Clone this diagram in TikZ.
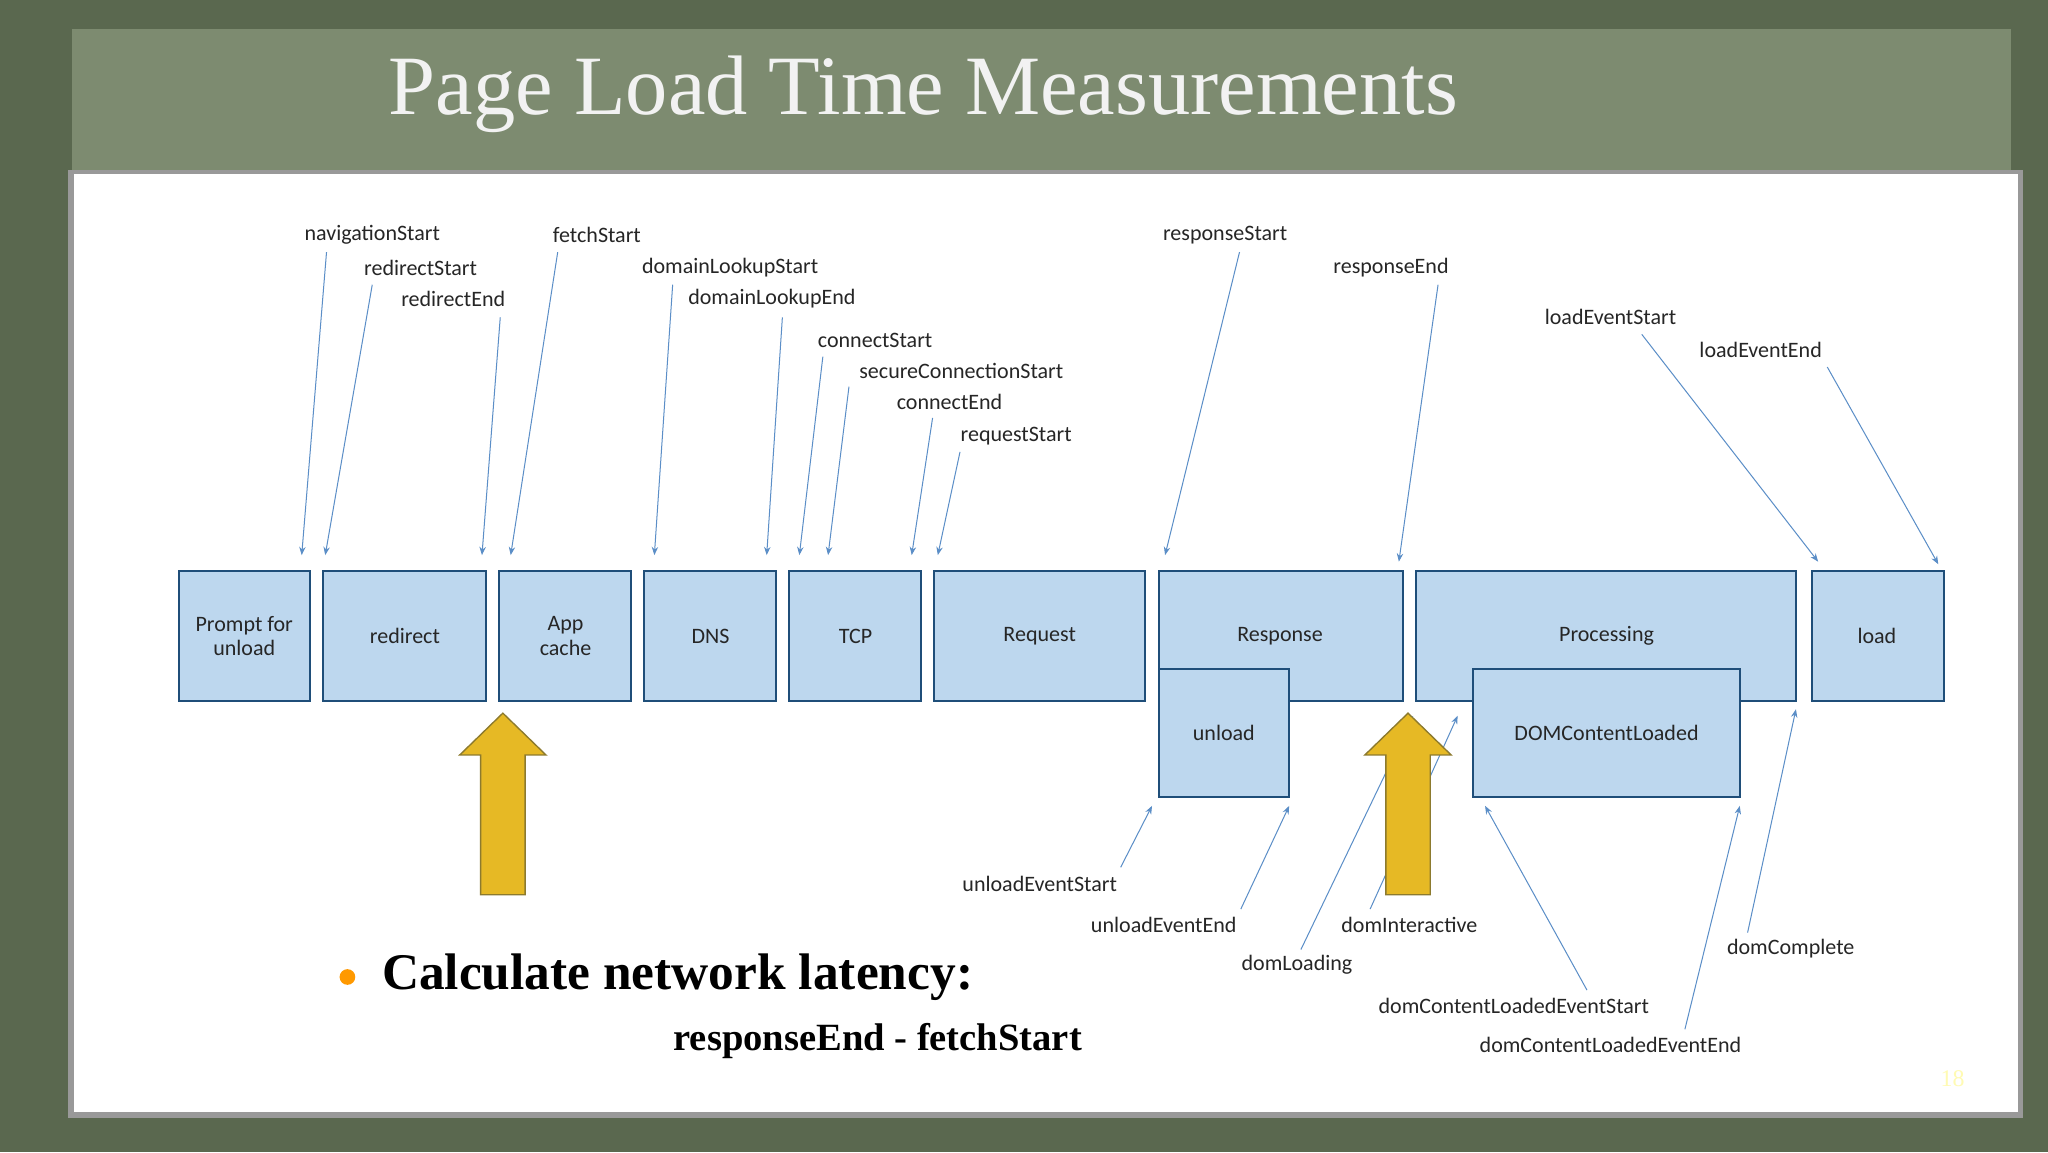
\documentclass[tikz,border=0pt]{standalone}
\usepackage{fontspec}
\setmainfont{Liberation Serif}
\newfontfamily\lab{Carlito}
\usetikzlibrary{arrows.meta}
\definecolor{bg}{HTML}{5A684F}
\definecolor{panel}{HTML}{7D8B70}
\definecolor{boxf}{HTML}{BDD7EE}
\definecolor{boxd}{HTML}{1F4E79}
\definecolor{arr}{HTML}{5B8EC7}
\definecolor{gold}{HTML}{E6B925}
\definecolor{goldd}{HTML}{8C7A2E}
\begin{document}
\begin{tikzpicture}[x=0.05cm,y=-0.05cm,
  bx/.style={draw=boxd,line width=2.2pt,fill=boxf},
  bt/.style={font=\lab\fontsize{24}{27}\selectfont,align=center,text=black!85},
  lb/.style={font=\lab\fontsize{24}{27}\selectfont,text=black!85,inner sep=1pt},
  ar/.style={draw=arr,line width=1.1pt,-{Stealth[length=9pt,width=7pt]}}]
\useasboundingbox (0,0) rectangle (1568,882);
\fill[bg] (0,0) rectangle (1568,882);
\fill[panel] (55,22) rectangle (1540,140);
\fill[black!40] (52,130) rectangle (1549,856);
\fill[white] (57,133) rectangle (1545,851);
\node[text=white!95!black,font=\fontsize{92}{96}\selectfont] (title) at (707,72) {Page Load Time Measurements};
% boxes
\draw[bx] (137,437) rectangle (237,537); \node[bt] (pu) at (187,487) {Prompt for\\unload};
\draw[bx] (247,437) rectangle (372,537); \node[bt] (rd) at (310,487) {redirect};
\draw[bx] (382,437) rectangle (483,537); \node[bt] (ac) at (433,487) {App\\cache};
\draw[bx] (493,437) rectangle (594,537); \node[bt] (dns) at (544,487) {DNS};
\draw[bx] (604,437) rectangle (705,537); \node[bt] (tcp) at (655,487) {TCP};
\draw[bx] (715,437) rectangle (877,537); \node[bt] (req) at (796,487) {Request};
\draw[bx] (887,437) rectangle (1074,537); \node[bt] (resp) at (980,487) {Response};
\draw[bx] (887,512) rectangle (987,610); \node[bt] (unl) at (937,561) {unload};
\draw[bx] (1084,437) rectangle (1375,537); \node[bt] (proc) at (1230,487) {Processing};
\draw[bx] (1128,512) rectangle (1332,610); \node[bt] (dcl) at (1230,561) {DOMContentLoaded};
\draw[bx] (1387,437) rectangle (1488,537); \node[bt] (ld) at (1437,487) {load};
% top labels
\foreach \n/\t/\x/\y/\ax/\ay/\bx/\by in {
 a/navigationStart/285/180/250/193/231/425,
 b/redirectStart/322/205/285/218/249/425,
 c/redirectEnd/347/229/383/243/369/425,
 d/fetchStart/457/180/427/193/391/425,
 e/domainLookupStart/559/205/515/218/501/425,
 f/domainLookupEnd/591/229/599/243/587/425,
 g/connectStart/670/261/630/273/612/425,
 h/secureConnectionStart/736/284/650/296/634/425,
 i/connectEnd/727/308/714/320/698/425,
 j/requestStart/778/334/735/346/718/425,
 k/responseStart/938/180/949/193/892/425,
 l/responseEnd/1065/205/1101/218/1071/430,
 m/loadEventStart/1233/243/1257/256/1392/430,
 n/loadEventEnd/1348/268/1399/281/1484/432,
 o/unloadEventStart/796/677/858/664/882/617,
 p/unloadEventEnd/891/708/950/696/987/617,
 q/domLoading/993/739/996/727/1082/548,
 r/domInteractive/1079/708/1049/696/1116/548,
 s/domContentLoadedEventStart/1159/770/1215/758/1137/617,
 t/domContentLoadedEventEnd/1233/800/1290/788/1332/617,
 u/domComplete/1371/726/1338/714/1375/543}{
 \node[lb] (L\n) at (\x,\y) {\t};
 \coordinate (S\n) at (\ax,\ay);
 \coordinate (E\n) at (\bx,\by);
 \draw[ar] (S\n) -- (E\n);
}
% yellow arrows
\foreach \c in {385,1078}{
 \draw[fill=gold,draw=goldd,line width=1.5pt] (\c-17,685) -- (\c-17,578) -- (\c-33,578) -- (\c,546) -- (\c+33,578) -- (\c+17,578) -- (\c+17,685) -- cycle;
}
\fill[orange!80!yellow] (266,748) circle (6);
\node[anchor=west,font=\bfseries\fontsize{56}{60}\selectfont] (calc) at (290,748) {Calculate network latency:};
\node[font=\bfseries\fontsize{42}{46}\selectfont] (form) at (672,797) {responseEnd - fetchStart};
\node[text=yellow!30!white,font=\fontsize{26}{28}\selectfont] (pg) at (1495,826) {18};
\end{tikzpicture}
\end{document}
